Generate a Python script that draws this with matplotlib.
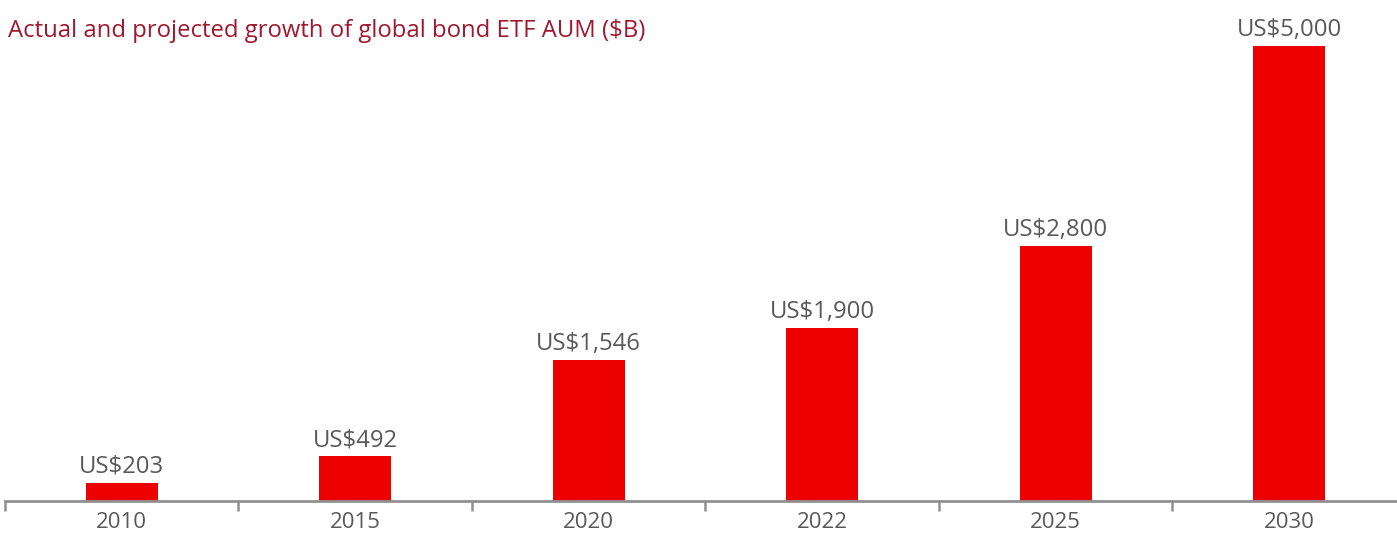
import matplotlib.pyplot as plt
import numpy as np

years = ["2010", "2015", "2020", "2022", "2025", "2030"]
aum = [203, 492, 1546, 1900, 2800, 5000]
labels = ["US$203", "US$492", "US$1,546", "US$1,900", "US$2,800", "US$5,000"]

plt.rcParams["font.family"] = ["Open Sans", "DejaVu Sans"]

fig = plt.figure(figsize=(13.97, 5.35), dpi=100)
ax = fig.add_axes([5 / 1397, 34 / 535, 1401 / 1397, 501 / 535])

x = np.arange(len(years))
bars = ax.bar(x, aum, width=0.31, color="#EC0000", zorder=2)
for xi, v, lab in zip(x, aum, labels):
    ax.annotate(lab, (xi, v), xytext=(0, 3), textcoords="offset points",
                ha="center", va="bottom", fontsize=17.2, color="#595959")

ax.set_xlim(-0.5, len(years) - 0.5)
ax.set_ylim(0, 5000 * 501 / 455)
ax.set_yticks([])
ax.set_xticks(x)
ax.set_xticklabels(years, fontsize=16, color="#595959")
ax.tick_params(axis="x", which="major", length=0, pad=8)
ax.set_xticks(np.arange(len(years) + 1) - 0.5, minor=True)
ax.tick_params(axis="x", which="minor", length=7, width=1.8, color="#909090")
for s in ["top", "right", "left"]:
    ax.spines[s].set_visible(False)
ax.spines["bottom"].set_color("#909090")
ax.spines["bottom"].set_linewidth(2)
ax.patch.set_alpha(0)

fig.text(8 / 1397, 1 - 31 / 535, "Actual and projected growth of global bond ETF AUM ($B)",
         fontsize=17.2, color="#A0182D", ha="left", va="center")

fig.savefig("out.png", dpi=100)
